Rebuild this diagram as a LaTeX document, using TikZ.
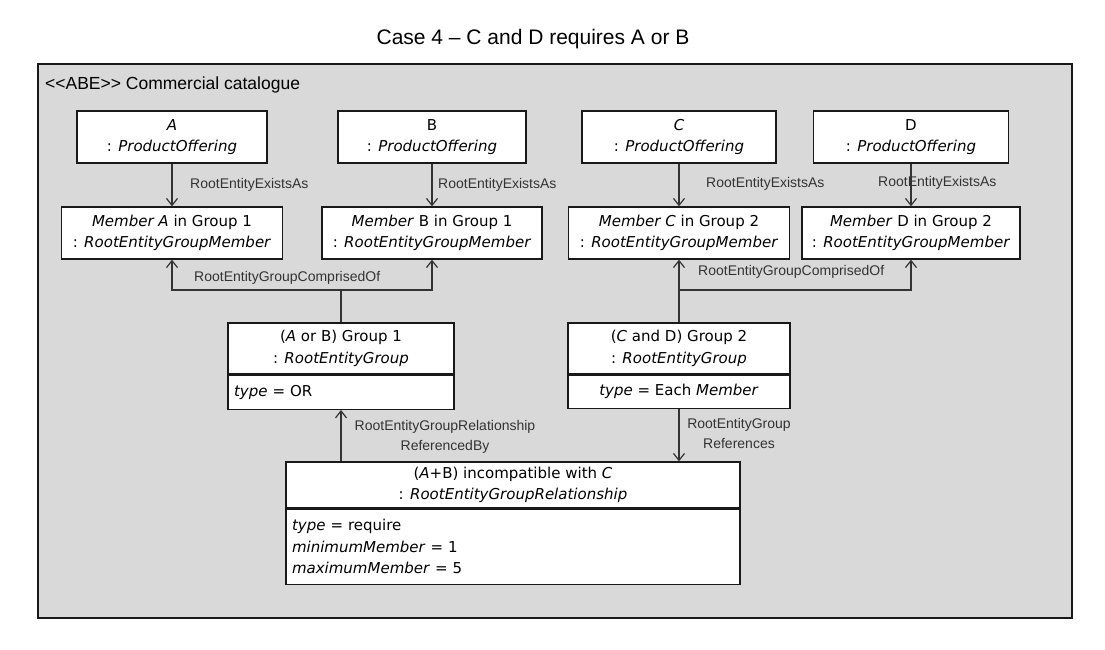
\documentclass[tikz,border=0pt]{standalone}
\usepackage{fontspec}
\setmainfont{Liberation Sans}
\newfontfamily\umlfont{DejaVu Sans}
\usetikzlibrary{arrows.meta,positioning}
\definecolor{pkggray}{HTML}{D9D9D9}

\begin{document}
\begin{tikzpicture}[
  x=1pt, y=-1pt,
  obj/.style={draw=black!90, line width=1.3pt, fill=white, align=center, inner xsep=6pt, inner ysep=2pt, font=\umlfont\fontsize{15}{21.5}\selectfont},
  attr/.style={obj, align=left},
  lbl/.style={font=\fontsize{14}{20}\selectfont, text=black!80, inner sep=1pt},
  conn/.style={draw=black!80, line width=1.2pt},
  nav/.style={conn, -{Straight Barb[length=7pt,width=11pt]}}
]
\useasboundingbox (0,0) rectangle (1105,650);
\node[anchor=base, font=\fontsize{21}{25}\selectfont] (title) at (533,45) {Case 4 – C and D requires A or B};
\draw[fill=pkggray, draw=black!90, line width=1.8pt] (38,64) rectangle (1072,618);
\node[anchor=base west, font=\fontsize{17.5}{21}\selectfont, inner sep=0pt] (pkg) at (45,90) {<\kern0pt<ABE>\kern0pt> Commercial catalogue};
% product offerings
\node[obj, minimum width=190pt, minimum height=52pt] (pa) at (172,137) {\textit{A}\\: \textit{ProductOffering}};
\node[obj, minimum width=188pt, minimum height=52pt] (pb) at (432,137) {B\\: \textit{ProductOffering}};
\node[obj, minimum width=194pt, minimum height=52pt] (pc) at (679,137) {\textit{C}\\: \textit{ProductOffering}};
\node[obj, minimum width=195pt, minimum height=52pt] (pd) at (911,137) {D\\: \textit{ProductOffering}};
% group members
\node[obj, minimum width=221pt, minimum height=52pt] (ma) at (172,233) {\textit{Member A} in Group 1\\: \textit{RootEntityGroupMember}};
\node[obj, minimum width=220pt, minimum height=52pt] (mb) at (432,233) {\textit{Member} B in Group 1\\: \textit{RootEntityGroupMember}};
\node[obj, minimum width=221pt, minimum height=52pt] (mc) at (679,233) {\textit{Member C} in Group 2\\: \textit{RootEntityGroupMember}};
\node[obj, minimum width=218pt, minimum height=52pt] (md) at (911,233) {\textit{Member} D in Group 2\\: \textit{RootEntityGroupMember}};
% groups
\node[obj, minimum width=226pt, minimum height=51pt] (g1) at (341,348.5) {(\textit{A} or B) Group 1\\: \textit{RootEntityGroup}};
\node[attr, text width=214pt, minimum height=34pt, below=0pt of g1] (g1a) {\textit{type} = OR};
\node[obj, minimum width=222pt, minimum height=51pt] (g2) at (679,348.5) {(\textit{C} and D) Group 2\\: \textit{RootEntityGroup}};
\node[obj, minimum width=222pt, minimum height=33pt, below=0pt of g2] (g2a) {\textit{type} = Each \textit{Member}};
% relationship
\node[obj, minimum width=454pt, minimum height=46pt] (rel) at (513,485) {(\textit{A}+B) incompatible with \textit{C}\\: \textit{RootEntityGroupRelationship}};
\node[attr, text width=442pt, minimum height=75pt, below=0pt of rel] (rela) {\textit{type} = require\\\textit{minimumMember} = 1\\\textit{maximumMember} = 5};
% labels
\node[lbl, anchor=west] (la) at (189,185) {RootEntityExistsAs};
\node[lbl, anchor=west] (lb) at (437,185) {RootEntityExistsAs};
\node[lbl, anchor=west] (lc) at (705,184) {RootEntityExistsAs};
\node[lbl, anchor=west] (ld) at (877,183) {RootEntityExistsAs};
\node[lbl, anchor=west] (lg1) at (193,278) {RootEntityGroupComprisedOf};
\node[lbl, anchor=west] (lg2) at (697,272) {RootEntityGroupComprisedOf};
\node[lbl, align=center] (lref) at (445,437) {RootEntityGroupRelationship\\ReferencedBy};
\node[lbl, align=center] (lrefs) at (739,433) {RootEntityGroup\\References};
% connectors
\coordinate (j1) at (341,290);
\coordinate (j2) at (679,290);
\draw[nav] (pa) -- (ma);
\draw[nav] (pb) -- (mb);
\draw[nav] (pc) -- (mc);
\draw[nav] (pd) -- (md);
\draw[conn] (g1) -- (j1);
\draw[nav] (j1) -| (ma);
\draw[nav] (j1) -| (mb);
\draw[conn] (g2) -- (j2);
\draw[nav] (j2) -- (mc);
\draw[nav] (j2) -| (md);
\draw[nav] (rel.north -| g1a.south) -- (g1a);
\draw[nav] (g2a) -- (g2a.south |- rel.north);
\end{tikzpicture}
\end{document}
